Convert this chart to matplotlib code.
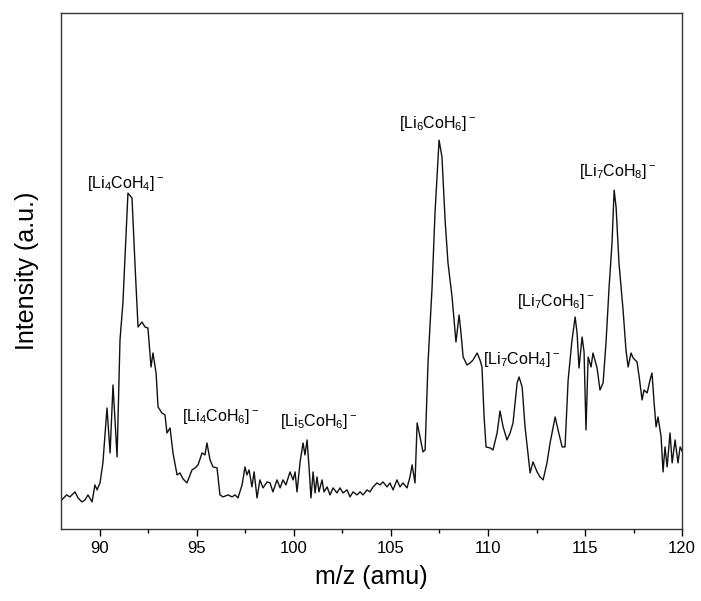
import matplotlib
matplotlib.use("Agg")
import matplotlib.pyplot as plt
import numpy as np

plt.rcParams["font.family"] = ["Liberation Sans", "DejaVu Sans"]
plt.rcParams["mathtext.fontset"] = "custom"
plt.rcParams["mathtext.rm"] = "Liberation Sans"
plt.rcParams["mathtext.it"] = "Liberation Sans:italic"
plt.rcParams["mathtext.bf"] = "Liberation Sans:bold"

# spectrum trace, m/z (amu) vs intensity (a.u.)
mz = [
    88.04, 88.29, 88.46, 88.72, 88.88, 89.07, 89.24, 89.39, 89.60, 89.75,
    89.86, 90.01, 90.16, 90.37, 90.53, 90.68, 90.89, 91.04, 91.19, 91.45,
    91.66, 91.81, 91.97, 92.17, 92.33, 92.48, 92.64, 92.74, 92.90, 93.00,
    93.20, 93.36, 93.46, 93.62, 93.77, 93.98, 94.13, 94.29, 94.49, 94.75,
    94.91, 95.06, 95.27, 95.42, 95.52, 95.68, 95.83, 96.04, 96.19, 96.35,
    96.61, 96.81, 96.97, 97.12, 97.33, 97.48, 97.58, 97.69, 97.84, 97.95,
    98.10, 98.25, 98.41, 98.62, 98.77, 98.92, 99.13, 99.29, 99.44, 99.59,
    99.80, 99.96, 100.06, 100.16, 100.32, 100.47, 100.57, 100.68, 100.78, 100.88,
    100.99, 101.09, 101.19, 101.29, 101.45, 101.55, 101.71, 101.86, 102.02, 102.22,
    102.38, 102.53, 102.74, 102.89, 103.05, 103.25, 103.41, 103.56, 103.77, 103.92,
    104.08, 104.28, 104.44, 104.59, 104.80, 104.95, 105.11, 105.31, 105.47, 105.62,
    105.83, 105.98, 106.09, 106.24, 106.35, 106.50, 106.65, 106.76, 106.91, 107.12,
    107.27, 107.48, 107.63, 107.79, 107.94, 108.15, 108.35, 108.51, 108.61, 108.72,
    108.92, 109.08, 109.23, 109.44, 109.59, 109.69, 109.80, 109.90, 110.11, 110.26,
    110.47, 110.62, 110.78, 110.98, 111.14, 111.29, 111.50, 111.60, 111.76, 111.91,
    112.17, 112.32, 112.53, 112.68, 112.84, 113.04, 113.20, 113.46, 113.61, 113.82,
    113.97, 114.13, 114.33, 114.49, 114.59, 114.69, 114.85, 114.95, 115.05, 115.16,
    115.31, 115.41, 115.62, 115.77, 115.93, 116.08, 116.24, 116.39, 116.50, 116.60,
    116.75, 116.96, 117.11, 117.22, 117.37, 117.48, 117.68, 117.79, 117.94, 118.04,
    118.20, 118.35, 118.45, 118.56, 118.66, 118.76, 118.92, 119.02, 119.12, 119.23,
    119.38, 119.49, 119.64, 119.79, 119.90, 120.05,
]
intensity = [
    29, 34, 32, 37, 31, 27, 29, 34, 27, 44,
    39, 46, 66, 121, 76, 144, 72, 189, 226, 336,
    331, 266, 202, 207, 202, 201, 162, 176, 156, 122,
    116, 114, 96, 101, 76, 54, 56, 50, 46, 59,
    61, 64, 76, 74, 86, 69, 62, 61, 34, 32,
    34, 32, 34, 31, 44, 62, 54, 59, 42, 57,
    31, 49, 41, 47, 46, 37, 49, 41, 49, 44,
    57, 49, 57, 37, 67, 86, 74, 89, 62, 31,
    57, 36, 52, 37, 49, 37, 42, 34, 41, 36,
    41, 36, 39, 32, 37, 34, 37, 34, 39, 37,
    42, 46, 44, 47, 42, 46, 39, 49, 42, 46,
    41, 52, 64, 46, 106, 92, 77, 79, 166, 242,
    316, 389, 372, 309, 266, 232, 187, 214, 196, 172,
    164, 166, 169, 176, 169, 162, 112, 82, 81, 79,
    96, 118, 102, 89, 96, 106, 146, 152, 142, 102,
    56, 67, 57, 52, 49, 66, 86, 112, 99, 82,
    82, 149, 189, 212, 196, 161, 192, 177, 99, 172,
    162, 176, 161, 139, 146, 186, 242, 286, 339, 322,
    266, 219, 179, 162, 176, 171, 167, 152, 129, 139,
    136, 149, 156, 126, 102, 112, 92, 57, 82, 62,
    96, 66, 89, 66, 82, 76,
]

# ion assignments and where their labels sit
ion_labels = [
    r"[Li$_4$CoH$_4$]$^-$",
    r"[Li$_4$CoH$_6$]$^-$",
    r"[Li$_5$CoH$_6$]$^-$",
    r"[Li$_6$CoH$_6$]$^-$",
    r"[Li$_7$CoH$_4$]$^-$",
    r"[Li$_7$CoH$_6$]$^-$",
    r"[Li$_7$CoH$_8$]$^-$",
]
label_mz = [91.3, 96.2, 101.25, 107.4, 111.75, 113.5, 116.65]
label_int = [346, 112, 107, 406, 169, 228, 358]

fig = plt.figure(figsize=(7.01, 6.01), dpi=100)
ax = fig.add_axes([0.087, 0.120, 0.886, 0.858])

ax.plot(mz, intensity, color="#111111", linewidth=1.0)

for txt, x, y in zip(ion_labels, label_mz, label_int):
    ax.text(x, y, txt, ha="center", va="center", fontsize=11.5)

ax.set_xlim(88, 120)
ax.set_ylim(0, 516)
ax.set_xticks(np.arange(90, 121, 5))
ax.set_xticks(np.arange(92.5, 120, 5), minor=True)
ax.set_yticks([])
ax.tick_params(axis="x", which="major", direction="out", length=5, width=1, labelsize=12, pad=4)
ax.tick_params(axis="x", which="minor", direction="out", length=3, width=1)
for s in ax.spines.values():
    s.set_linewidth(1.0)
    s.set_color("#333333")

ax.set_xlabel("m/z (amu)", fontsize=18, labelpad=6)
ax.set_ylabel("Intensity (a.u.)", fontsize=18, labelpad=16)

fig.savefig("out.png", dpi=100)
